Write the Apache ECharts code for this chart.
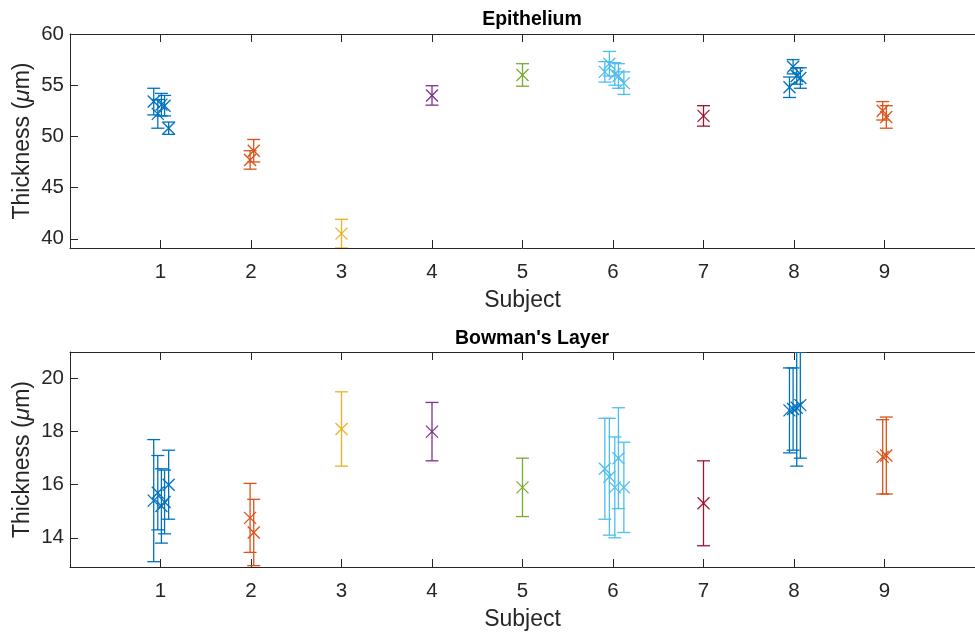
<!DOCTYPE html>
<html><head><meta charset="utf-8">
<script src="https://cdn.jsdelivr.net/npm/echarts@6/dist/echarts.min.js"></script>
<style>html,body{margin:0;padding:0;background:#fff}#c{width:975px;height:634px}</style>
</head><body><div id="c"></div>
<script>
// ---- data ----
const subjectTicks = [1, 2, 3, 4, 5, 6, 7, 8, 9];
const subjectColors = ['#0072BD', '#D95319', '#EDB120', '#7E2F8E', '#77AC30', '#4DBEEE', '#A2142F', '#0072BD', '#D95319'];
const pointSubject = [1,1,1,1,1, 2,2, 3, 4, 5, 6,6,6,6,6, 7, 8,8,8,8, 9,9];
const pointX = [0.925,0.97,1.01,1.045,1.09, 1.99,2.03, 3, 4, 5, 5.91,5.96,6.02,6.06,6.12, 7, 7.95,7.99,8.03,8.07, 8.98,9.02];
const epiMean = [53.4,52.2,53.1,53.0,50.8, 47.7,48.6, 40.5, 54.0, 56.0, 56.3,57.1,56.1,55.9,55.2, 52.0, 54.8,56.8,55.9,55.7, 52.5,51.9];
const epiErr  = [1.3,1.4,1.1,1.0,0.6, 0.9,1.1, 1.4, 0.95, 1.1, 1.0,1.2,1.1,1.2,1.1, 1.0, 1.0,0.7,0.8,1.0, 0.9,1.1];
const bowMean = [15.4,15.7,15.2,15.35,16.0, 14.75,14.2, 18.1, 18.0, 15.9, 16.6,16.3,15.9,17.0,15.9, 15.3, 18.8,18.85,18.9,19.0, 17.05,17.1];
const bowErr  = [2.3,1.4,1.4,1.2,1.3, 1.3,1.25, 1.4, 1.1, 1.1, 1.9,2.2,1.9,1.9,1.7, 1.6, 1.6,1.55,2.2,2.0, 1.4,1.45];
const epiTicks = [40, 45, 50, 55, 60];
const bowTicks = [14, 16, 18, 20];
const titles = ['Epithelium', "Bowman's Layer"];
const xLabel = 'Subject';

// ---- chart ----
const FONT = '"Liberation Sans", Arial, Helvetica, sans-serif';
const INK = '#262626';
const TICK_FS = 20.5, LABEL_FS = 23, TITLE_FS = 19.5;

function buildData(means, errs) {
  return pointX.map((x, i) => [x, means[i], errs[i], pointSubject[i] - 1]);
}

function renderErr(params, api) {
  const x = api.value(0), m = api.value(1), e = api.value(2), ci = api.value(3);
  const c = subjectColors[ci];
  const t = api.coord([x, m + e]), b = api.coord([x, m - e]), p = api.coord([x, m]);
  const cw = 6.5, mk = 6;
  const style = { stroke: c, lineWidth: 1.3, fill: null };
  const L = (x1, y1, x2, y2) => ({ type: 'line', shape: { x1, y1, x2, y2 }, style });
  return {
    type: 'group',
    children: [
      L(t[0], t[1], b[0], b[1]),
      L(t[0] - cw, t[1], t[0] + cw, t[1]),
      L(b[0] - cw, b[1], b[0] + cw, b[1]),
      L(p[0] - mk, p[1] - mk, p[0] + mk, p[1] + mk),
      L(p[0] - mk, p[1] + mk, p[0] + mk, p[1] - mk)
    ]
  };
}

const axisLine = { show: true, onZero: false, lineStyle: { color: INK, width: 1 } };
const axisTick = { show: true, inside: true, length: 8, lineStyle: { color: INK, width: 1 } };

function xAxes(gi) {
  return [{
    type: 'value', gridIndex: gi, position: 'bottom', min: 0, max: 10, interval: 1,
    axisLine, splitLine: { show: false },
    axisTick: Object.assign({}, axisTick, { customValues: subjectTicks }),
    axisLabel: { customValues: subjectTicks, color: INK, fontSize: TICK_FS, fontFamily: FONT, margin: 14 },
    name: xLabel, nameLocation: 'middle', nameGap: 41,
    nameTextStyle: { color: INK, fontSize: LABEL_FS, fontFamily: FONT }
  }, {
    type: 'value', gridIndex: gi, position: 'top', min: 0, max: 10, interval: 1,
    axisLine, splitLine: { show: false },
    axisTick: Object.assign({}, axisTick, { customValues: subjectTicks }),
    axisLabel: { show: false }
  }];
}

function yAxis(gi, min, max, ticks) {
  return {
    type: 'value', gridIndex: gi, min, max, position: 'left',
    axisLine, splitLine: { show: false },
    axisTick: Object.assign({}, axisTick, { customValues: ticks }),
    axisLabel: { customValues: ticks, color: INK, fontSize: TICK_FS, fontFamily: FONT, margin: 6 },
    name: 'Thickness ({mu|μ}m)', nameLocation: 'middle', nameGap: 36, nameRotate: 90,
    nameMoveOverlap: false,
    nameTextStyle: {
      color: INK, fontSize: LABEL_FS, fontFamily: FONT,
      rich: { mu: { fontStyle: 'italic', fontSize: LABEL_FS, fontFamily: FONT, color: INK } }
    }
  };
}

const option = {
  backgroundColor: '#fff',
  animation: false,
  title: [
    { text: titles[0], left: 527, top: 5, textAlign: 'center',
      textStyle: { color: '#000', fontSize: TITLE_FS, fontWeight: 'bold', fontFamily: FONT } },
    { text: titles[1], left: 527, top: 324, textAlign: 'center',
      textStyle: { color: '#000', fontSize: TITLE_FS, fontWeight: 'bold', fontFamily: FONT } }
  ],
  grid: [
    { left: 70, top: 34, width: 913, height: 214 },
    { left: 70, top: 352, width: 913, height: 215 }
  ],
  xAxis: [...xAxes(0), ...xAxes(1)],
  yAxis: [yAxis(0, 39.1, 60, epiTicks), yAxis(1, 12.9, 21, bowTicks)],
  series: [
    { type: 'custom', xAxisIndex: 0, yAxisIndex: 0, clip: true, renderItem: renderErr,
      encode: { x: 0, y: 1 }, data: buildData(epiMean, epiErr) },
    { type: 'custom', xAxisIndex: 2, yAxisIndex: 1, clip: true, renderItem: renderErr,
      encode: { x: 0, y: 1 }, data: buildData(bowMean, bowErr) }
  ]
};

const chart = echarts.init(document.getElementById('c'), null, { renderer: 'canvas' });
chart.setOption(option);
</script>
</body></html>
